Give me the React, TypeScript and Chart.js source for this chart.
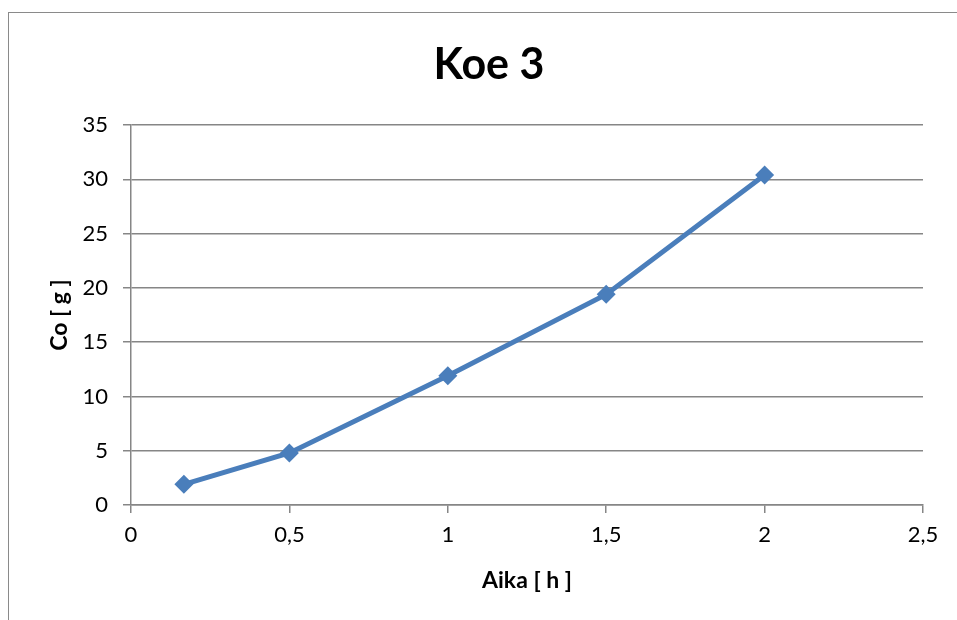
import React, { useEffect, useRef } from "react";
import { Chart, registerables } from "chart.js";

Chart.register(...registerables);

const chartTitle = "Koe 3";
const xAxisTitle = "Aika [ h ]";
const yAxisTitle = "Co [ g ]";
const timeHours = [0.167, 0.5, 1, 1.5, 2];
const coGrams = [1.9, 4.8, 11.9, 19.4, 30.4];
const xMin = 0;
const xMax = 2.5;
const xStep = 0.5;
const yMin = 0;
const yMax = 35;
const yStep = 5;

const FONT = "Lato, 'Open Sans', sans-serif";
const GRID = "#868686";
const BLUE = "#4a7ebb";

const titlePlugin = {
  id: "customTitle",
  afterDraw(chart: any) {
    const ctx = chart.ctx;
    ctx.save();
    ctx.font = `bold 43px ${FONT}`;
    ctx.fillStyle = "#000";
    ctx.textAlign = "center";
    ctx.textBaseline = "middle";
    ctx.fillText(chartTitle, 489, 65);
    ctx.restore();
  },
};

export default function App() {
  const ref = useRef<HTMLCanvasElement | null>(null);

  useEffect(() => {
    if (!ref.current) return;
    const chart = new Chart(ref.current, {
      type: "scatter",
      data: {
        datasets: [
          {
            data: timeHours.map((x, i) => ({ x, y: coGrams[i] })),
            showLine: true,
            borderColor: BLUE,
            backgroundColor: BLUE,
            borderWidth: 5,
            pointStyle: "rectRot",
            pointRadius: 9.5,
            pointHoverRadius: 9.5,
            pointBorderWidth: 0,
          },
        ],
      },
      options: {
        animation: false,
        responsive: false,
        layout: { padding: { top: 125, left: 38, right: 34, bottom: 20 } },
        plugins: {
          legend: { display: false },
          tooltip: { enabled: false },
          title: { display: false },
        },
        scales: {
          x: {
            type: "linear",
            min: xMin,
            max: xMax,
            afterFit: (s: any) => {
              s.height = 95;
            },
            ticks: {
              stepSize: xStep,
              color: "#000",
              font: { family: FONT, size: 22 },
              padding: 9,
              callback: (v: any) => String(v).replace(".", ","),
            },
            grid: {
              display: true,
              drawOnChartArea: false,
              drawTicks: true,
              tickLength: 8,
              color: GRID,
              lineWidth: 1.5,
            },
            border: { display: true, color: GRID, width: 1.5 },
            title: {
              display: true,
              text: xAxisTitle,
              color: "#000",
              font: { family: FONT, size: 23, weight: "bold" },
              padding: { top: 0, bottom: 6 },
            },
          },
          y: {
            type: "linear",
            min: yMin,
            max: yMax,
            afterFit: (s: any) => {
              s.width = 93;
            },
            ticks: {
              stepSize: yStep,
              color: "#000",
              font: { family: FONT, size: 22 },
              padding: 15,
            },
            grid: {
              display: true,
              drawTicks: true,
              tickLength: 8,
              color: GRID,
              lineWidth: 1.5,
            },
            border: { display: true, color: GRID, width: 1.5 },
            title: {
              display: true,
              text: yAxisTitle,
              color: "#000",
              font: { family: FONT, size: 23, weight: "bold" },
              padding: { top: 8, bottom: 0 },
            },
          },
        },
      },
      plugins: [titlePlugin],
    } as any);
    return () => chart.destroy();
  }, []);

  return (
    <div style={{ position: "fixed", left: 0, top: 0, width: 957, height: 620, background: "#fff", overflow: "hidden" }}>
      <canvas ref={ref} width={957} height={620} style={{ position: "absolute", left: 0, top: 0, width: 957, height: 620 }} />
      <div
        style={{
          position: "absolute",
          left: 8,
          top: 12,
          width: 2000,
          height: 2000,
          borderTop: "1.5px solid #8a8a8a",
          borderLeft: "1.5px solid #8a8a8a",
          pointerEvents: "none",
        }}
      />
    </div>
  );
}
